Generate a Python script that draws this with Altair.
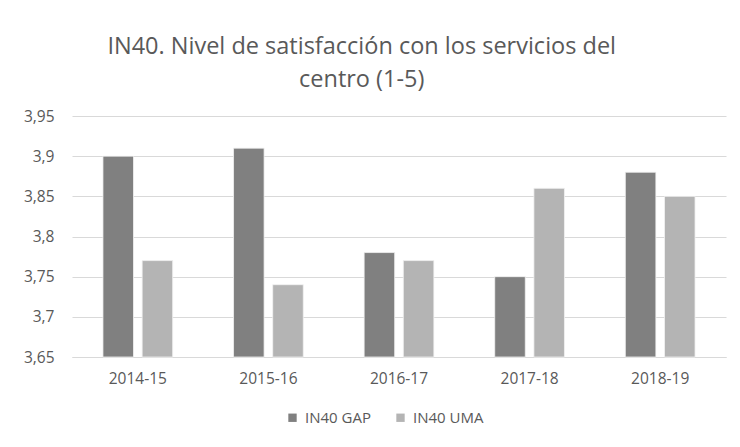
import altair as alt
import pandas as pd

years = ["2014-15", "2015-16", "2016-17", "2017-18", "2018-19"]
gap_values = [3.90, 3.91, 3.78, 3.75, 3.88]
uma_values = [3.77, 3.74, 3.77, 3.86, 3.85]
series_names = ["IN40 GAP", "IN40 UMA"]
series_colors = ["#808080", "#b4b4b4"]
y_ticks = [3.65, 3.70, 3.75, 3.80, 3.85, 3.90, 3.95]
baseline = 3.65

rows = []
for y, g, u in zip(years, gap_values, uma_values):
    rows.append({"year": y, "serie": series_names[0], "value": g})
    rows.append({"year": y, "serie": series_names[1], "value": u})
df = pd.DataFrame(rows)

txt = "#595959"
font = "Open Sans"

chart = alt.Chart(df).mark_bar(stroke="#f2f2f2", strokeWidth=0.8).encode(
    x=alt.X("year:N", sort=years, title=None,
            scale=alt.Scale(paddingInner=0.466, paddingOuter=0.237),
            axis=alt.Axis(labelAngle=0, ticks=False, domainColor="#d9d9d9",
                          labelColor=txt, labelFontSize=15.5, labelFont=font,
                          labelPadding=14)),
    xOffset=alt.XOffset("serie:N", sort=series_names,
                        scale=alt.Scale(paddingInner=0.22)),
    y=alt.Y("value:Q", title=None,
            scale=alt.Scale(domain=[3.65, 3.95], zero=False, nice=False),
            axis=alt.Axis(values=y_ticks, ticks=False, domain=False,
                          gridColor="#d9d9d9", labelColor=txt, labelFontSize=15.5,
                          labelFont=font, labelPadding=18,
                          labelExpr="replace(format(datum.value, '.2~f'), '.', ',')")),
    y2=alt.Y2(datum=baseline),
    color=alt.Color("serie:N", sort=series_names,
                    scale=alt.Scale(domain=series_names, range=series_colors),
                    legend=alt.Legend(title=None, orient="none", direction="horizontal",
                                      legendX=213, legendY=294,
                                      symbolType="square", symbolSize=70,
                                      symbolStrokeWidth=0,
                                      labelColor=txt, labelFontSize=15, labelFont=font,
                                      columnPadding=22, labelOffset=5)),
).properties(
    width=654,
    height=241,
    title=alt.Title(
        ["IN40. Nivel de satisfacción con los servicios del", "centro (1-5)"],
        font=font, fontSize=23.5, fontWeight="normal", color=txt,
        anchor="middle", frame="bounds", lineHeight=33, offset=18, dx=-13,
    ),
    autosize=alt.AutoSizeParams(type="none"),
    padding={"left": 64, "top": 108, "right": 6, "bottom": 82},
).configure_view(stroke=None)

chart.save("out.html", embed_options={"renderer": "svg", "actions": False})
